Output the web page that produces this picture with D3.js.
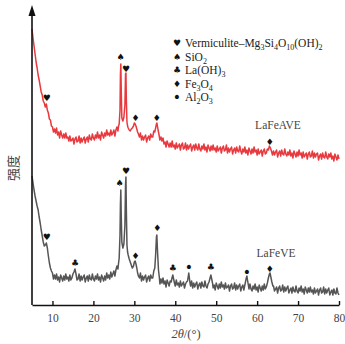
<!DOCTYPE html>
<html><head><meta charset="utf-8">
<script src="https://cdn.jsdelivr.net/npm/d3@7"></script>
<style>html,body{margin:0;padding:0;background:#fff;}</style>
</head><body>
<svg id="c" width="345" height="344"></svg>
<script>
// 2θ (degrees) and relative intensity (arbitrary units)
const xTicks = [10, 20, 30, 40, 50, 60, 70, 80];
const redData = [
[5,276],[5.25,267],[5.5,259],[5.75,251],[6,243],[6.25,237],[6.5,230],[6.75,225],[7,219],[7.25,213],[7.5,210],[7.75,204],[8,202],[8.25,198],[8.5,201],[8.75,195],[9,192],[9.25,186],[9.5,185],[9.75,179],[10,178],
[10.25,173],[10.5,176],[10.75,172],[11,177],[11.25,170],[11.5,173],[11.75,167],[12,174],[12.25,170],[12.5,167],[12.75,171],[13,167],[13.25,172],[13.5,167],[13.75,168],[14,164],[14.25,169],[14.5,164],[14.75,165],[15,167],[15.25,161],[15.5,166],[15.75,168],[16,163],[16.25,164],[16.5,169],[16.75,162],[17,167],[17.25,163],[17.5,166],[17.75,168],[18,162],[18.25,166],[18.5,168],[18.75,163],[19,170],[19.25,166],[19.5,165],[19.75,171],[20,167],
[20.25,165],[20.5,170],[20.75,167],[21,173],[21.25,167],[21.5,170],[21.75,165],[22,173],[22.25,170],[22.5,167],[22.75,172],[23,169],[23.25,175],[23.5,170],[23.75,172],[24,169],[24.25,175],[24.5,170],[24.75,172],[25,175],[25.25,169],[25.5,175],[25.75,178],[26,174],[26.15,179],
[26.3,181],[26.5,195],[26.6,230],[26.7,241],[26.8,215],[26.95,187],[27.2,184],[27.45,188],[27.7,200],[27.85,231],[27.95,232],[28.05,205],[28.2,183],[28.35,179],[28.5,177],[28.75,175],[29,174],[29.25,176],[29.5,177],[29.8,179],[30,182],[30.2,181],[30.4,179],[30.6,176],[30.8,173],[31,171],
[31.25,168],[31.5,172],[31.75,165],[32,169],[32.25,165],[32.5,168],[32.75,170],[33,163],[33.25,167],[33.5,169],[33.75,165],[34,171],[34.25,168],[34.5,168],[34.75,174],[35,173],[35.2,177],[35.4,181],[35.5,182],[35.6,180],[35.8,175],[36,171],
[36.25,165],[36.5,168],[36.75,164],[37,167],[37.25,161],[37.5,163],[37.75,158],[38,164],[38.25,161],[38.5,158],[38.75,162],[39,158],[39.25,164],[39.5,158],[39.75,160],[40,156],[40.25,162],[40.5,157],[40.75,159],[41,161],[41.25,155],[41.5,160],[41.75,162],[42,156],[42.25,157],[42.5,162],[42.75,155],[43,160],[43.25,156],[43.5,159],[43.75,161],[44,154],[44.25,158],[44.5,160],[44.75,155],[45,161],[45.25,157],[45.5,155],[45.75,161],[46,156],
[46.25,154],[46.5,159],[46.75,156],[47,161],[47.25,155],[47.5,158],[47.75,153],[48,160],[48.25,157],[48.5,154],[48.75,159],[49,155],[49.25,160],[49.5,155],[49.75,157],[50,153],[50.25,159],[50.5,154],[50.75,156],[51,158],[51.25,152],[51.5,157],[51.75,159],[52,154],[52.25,155],[52.5,160],[52.75,152],[53,157],[53.25,153],[53.5,156],[53.75,158],[54,151],[54.25,155],[54.5,157],[54.75,152],[55,158],[55.25,154],[55.5,153],[55.75,159],[56,154],
[56.25,151],[56.5,156],[56.75,153],[57,158],[57.25,152],[57.5,155],[57.75,150],[58,157],[58.25,154],[58.5,151],[58.75,156],[59,152],[59.25,158],[59.5,153],[59.75,155],[60,150],[60.25,156],[60.5,151],[60.75,153],[61,155],[61.25,149],[61.5,154],[61.75,156],[62,151],[62.25,152],[62.5,156],[62.75,155],[63,159],[63.25,157],[63.5,154],
[63.75,150],[64,154],[64.25,150],[64.5,153],[64.75,155],[65,148],[65.25,152],[65.5,154],[65.75,149],[66,155],[66.25,151],[66.5,150],[66.75,156],[67,151],
[67.25,149],[67.5,153],[67.75,150],[68,155],[68.25,149],[68.5,152],[68.75,147],[69,154],[69.25,151],[69.5,148],[69.75,153],[70,149],[70.25,155],[70.5,150],[70.75,152],[71,147],[71.25,153],[71.5,148],[71.75,150],[72,152],[72.25,146],[72.5,151],[72.75,153],[73,148],[73.25,149],[73.5,154],[73.75,147],[74,152],[74.25,148],[74.5,151],[74.75,152],[75,145],[75.25,149],[75.5,151],[75.75,146],[76,152],[76.25,148],[76.5,147],[76.75,153],[77,148],
[77.25,146],[77.5,151],[77.75,148],[78,152],[78.25,146],[78.5,149],[78.75,144],[79,151],[79.25,148],[79.5,145],[79.75,150],[80,146]
];
const grayData = [
[5,129],[5.25,122],[5.5,115],[5.75,109],[6,104],[6.25,99],[6.5,95],[6.75,88],[7,82],[7.25,75],[7.5,69],[7.75,63],[8,59],[8.25,60],[8.5,62],[8.75,57],[9,49],[9.25,42],[9.5,37],[9.75,34],[10,32],
[10.25,26],[10.5,30],[10.75,26],[11,31],[11.25,25],[11.5,28],[11.75,23],[12,30],[12.25,27],[12.5,24],[12.75,29],[13,25],[13.25,31],[13.5,26],[13.75,28],[14,24],[14.25,30],[14.5,25],[14.75,27],[15,31],[15.25,33],[15.5,36],[15.75,31],[16,25],[16.25,26],[16.5,31],[16.75,24],[17,29],[17.25,25],[17.5,28],[17.75,30],[18,23],[18.25,27],[18.5,29],[18.75,24],[19,30],[19.25,26],[19.5,25],[19.75,31],[20,26],
[20.25,24],[20.5,29],[20.75,26],[21,31],[21.25,25],[21.5,28],[21.75,23],[22,30],[22.25,27],[22.5,24],[22.75,29],[23,25],[23.25,32],[23.5,27],[23.75,30],[24,26],[24.25,33],[24.5,28],[24.75,31],[25,34],[25.25,29],[25.5,35],[25.75,39],[26,36],[26.15,42],
[26.3,47],[26.5,70],[26.6,100],[26.7,115],[26.8,90],[26.95,63],[27.2,57],[27.45,61],[27.7,80],[27.85,120],[27.95,128],[28.05,95],[28.2,60],[28.35,53],[28.5,50],[28.75,46],[29,43],[29.25,40],[29.5,37],[29.8,39],[30,43],[30.2,44],[30.4,41],[30.6,37],[30.8,32],[31,29],
[31.25,27],[31.5,32],[31.75,24],[32,29],[32.25,25],[32.5,28],[32.75,30],[33,23],[33.25,27],[33.5,29],[33.75,24],[34,30],[34.25,27],[34.5,27],[34.75,34],[35,37],[35.2,50],[35.4,68],[35.5,70],[35.65,55],[35.9,35],[36.1,28],
[36.25,21],[36.5,26],[36.75,22],[37,27],[37.25,21],[37.5,24],[37.75,18],[38,25],[38.25,22],[38.5,19],[38.75,24],[39,23],[39.2,27],[39.4,30],[39.6,26],[39.8,22],[40,19],[40.25,25],[40.5,20],[40.75,22],[41,18],[41.25,24],[41.5,19],[41.75,21],[42,23],[42.25,17],[42.5,21],[42.75,23],[43,24],[43.15,28],[43.3,32],[43.45,27],[43.6,22],[43.75,19],[44,24],[44.25,17],[44.5,22],[44.75,18],[45,21],[45.25,23],[45.5,16],[45.75,20],[46,22],[46.25,17],[46.5,23],[46.75,19],[47,18],[47.25,24],[47.5,19],
[47.75,17],[48,21],[48.25,23],[48.5,27],[48.7,30],[48.9,26],[49.1,22],[49.25,17],[49.5,20],[49.75,15],[50,22],[50.25,19],[50.5,16],[50.75,21],[51,17],[51.25,23],[51.5,18],[51.75,20],[52,16],[52.25,22],[52.5,17],[52.75,18],[53,20],[53.25,14],[53.5,19],[53.75,21],[54,16],[54.25,17],[54.5,22],[54.75,15],[55,20],[55.25,16],[55.5,19],[55.75,21],[56,14],[56.25,18],[56.5,20],[56.75,15],[57,20],[57.2,24],[57.35,27],[57.5,29],[57.65,25],[57.85,20],[58,16],[58.25,21],[58.5,16],
[58.75,14],[59,19],[59.25,16],[59.5,21],[59.75,15],[60,18],[60.25,13],[60.5,20],[60.75,17],[61,14],[61.25,19],[61.5,15],[61.75,21],[62,16],[62.25,18],[62.5,22],[62.75,27],[63,31],[63.15,32],[63.35,28],[63.6,23],[63.85,19],[64,19],[64.25,14],[64.5,16],[64.75,18],[65,12],[65.25,17],[65.5,19],[65.75,14],[66,15],[66.25,20],[66.5,13],[66.75,18],[67,14],[67.25,17],[67.5,19],[67.75,12],[68,15],[68.25,17],[68.5,12],[68.75,18],[69,14],[69.25,13],[69.5,19],[69.75,14],
[70,12],[70.25,17],[70.5,14],[70.75,19],[71,13],[71.25,16],[71.5,11],[71.75,18],[72,15],[72.25,12],[72.5,17],[72.75,13],[73,18],[73.25,13],[73.5,15],[73.75,11],[74,17],[74.25,12],[74.5,14],[74.75,16],[75,10],[75.25,15],[75.5,17],[75.75,12],[76,13],[76.25,18],[76.5,11],[76.75,16],[77,12],[77.25,15],[77.5,17],[77.75,10],[78,13],[78.25,15],[78.5,10],[78.75,16],[79,12],[79.25,11],[79.5,17],[79.75,12],[80,10]
];
// phase markers: [symbol, 2θ, level]
const redMarks = [["♥",8.6,207],["♠",26.6,248],["♥",28.0,236],["♦",30.3,187],["♦",35.5,187],["♦",63.1,163]];
const grayMarks = [["♥",8.6,68],["♣",15.5,42],["♠",26.4,122],["♥",28.0,134],["♦",30.3,49],["♦",35.6,77],["♣",39.4,37],["•",43.3,38],["♣",48.7,38],["•",57.5,33],["♦",63.1,36]];
const legendSymbols = ["♥","♠","♣","♦","•"];
const legendLabels = [
  [["Vermiculite–Mg",0],["3",1],["Si",0],["4",1],["O",0],["10",1],["(OH)",0],["2",1]],
  [["SiO",0],["2",1]],
  [["La(OH)",0],["3",1]],
  [["Fe",0],["3",1],["O",0],["4",1]],
  [["Al",0],["2",1],["O",0],["3",1]]
];
const seriesLabels = ["LaFeAVE","LaFeVE"];

const svg = d3.select("#c");
const x = d3.scaleLinear().domain([5,80]).range([32,339]);
const y = d3.scaleLinear().domain([0,300]).range([305,5]);
const serif = "'Liberation Serif','Times New Roman',serif";

const line = d3.line().x(d=>x(d[0])).y(d=>y(d[1]));
svg.append("path").datum(redData).attr("d",line).attr("fill","none").attr("stroke","#e8393e").attr("stroke-width",1.5).attr("stroke-linejoin","round");
svg.append("path").datum(grayData).attr("d",line).attr("fill","none").attr("stroke","#555").attr("stroke-width",1.5).attr("stroke-linejoin","round");

// axes
const xAxis = d3.axisBottom(x).tickValues(xTicks).tickSize(-4).tickPadding(9).tickSizeOuter(0);
const gx = svg.append("g").attr("transform","translate(0,305)").call(xAxis);
gx.select(".domain").attr("stroke","#111").attr("stroke-width",1.6);
gx.selectAll(".tick line").attr("stroke","#111").attr("stroke-width",1.4);
gx.selectAll(".tick text").attr("font-family",serif).attr("font-size",11.5).attr("fill","#444");

svg.append("line").attr("x1",x(5)).attr("x2",x(5)).attr("y1",y(0)).attr("y2",14).attr("stroke","#111").attr("stroke-width",1.6);
svg.append("path").attr("d",`M${x(5)-3.5},16L${x(5)},5L${x(5)+3.5},16Z`).attr("fill","#111");

svg.append("text").attr("x",186).attr("y",338).attr("text-anchor","middle").attr("font-family",serif).attr("font-size",12.5).attr("fill","#444")
  .call(t=>{t.append("tspan").attr("font-style","italic").text("2θ");t.append("tspan").text("/(°)");});

svg.append("text").attr("transform","translate(18,168) rotate(-90)").attr("text-anchor","middle")
  .attr("font-family","'Noto Sans CJK SC',sans-serif").attr("font-size",13).attr("fill","#444").text("强度");

// markers
function marks(arr){
  svg.append("g").selectAll("text").data(arr).join("text")
    .attr("x",d=>x(d[1])).attr("y",d=>y(d[2])).attr("text-anchor","middle").attr("dominant-baseline","central")
    .attr("font-family","'DejaVu Sans',sans-serif").attr("font-size",d=>d[0]==="•"?14:9).attr("fill","#111").text(d=>d[0]);
}
marks(redMarks); marks(grayMarks);

// legend
const lg = svg.append("g");
legendSymbols.forEach((s,i)=>{
  const yy = 43 + i*13.5;
  lg.append("text").attr("x",177).attr("y",yy).attr("text-anchor","middle").attr("dominant-baseline","central")
    .attr("font-family","'DejaVu Sans',sans-serif").attr("font-size",s==="•"?14:9).attr("fill","#111").text(s);
  const t = lg.append("text").attr("x",185).attr("y",yy+4).attr("font-family",serif).attr("font-size",11.5).attr("fill","#222");
  let prevSub = false;
  legendLabels[i].forEach(p=>{
    const isSub = p[1]===1;
    const ts = t.append("tspan").text(p[0]).attr("dy", isSub&&!prevSub?3:(!isSub&&prevSub?-3:0));
    if(isSub) ts.attr("font-size",8);
    prevSub = isSub;
  });
});

svg.append("text").attr("x",278).attr("y",129).attr("text-anchor","middle").attr("font-family",serif).attr("font-size",11.5).attr("fill","#444").text(seriesLabels[0]);
svg.append("text").attr("x",276).attr("y",257).attr("text-anchor","middle").attr("font-family",serif).attr("font-size",11.5).attr("fill","#444").text(seriesLabels[1]);
</script>
</body></html>
